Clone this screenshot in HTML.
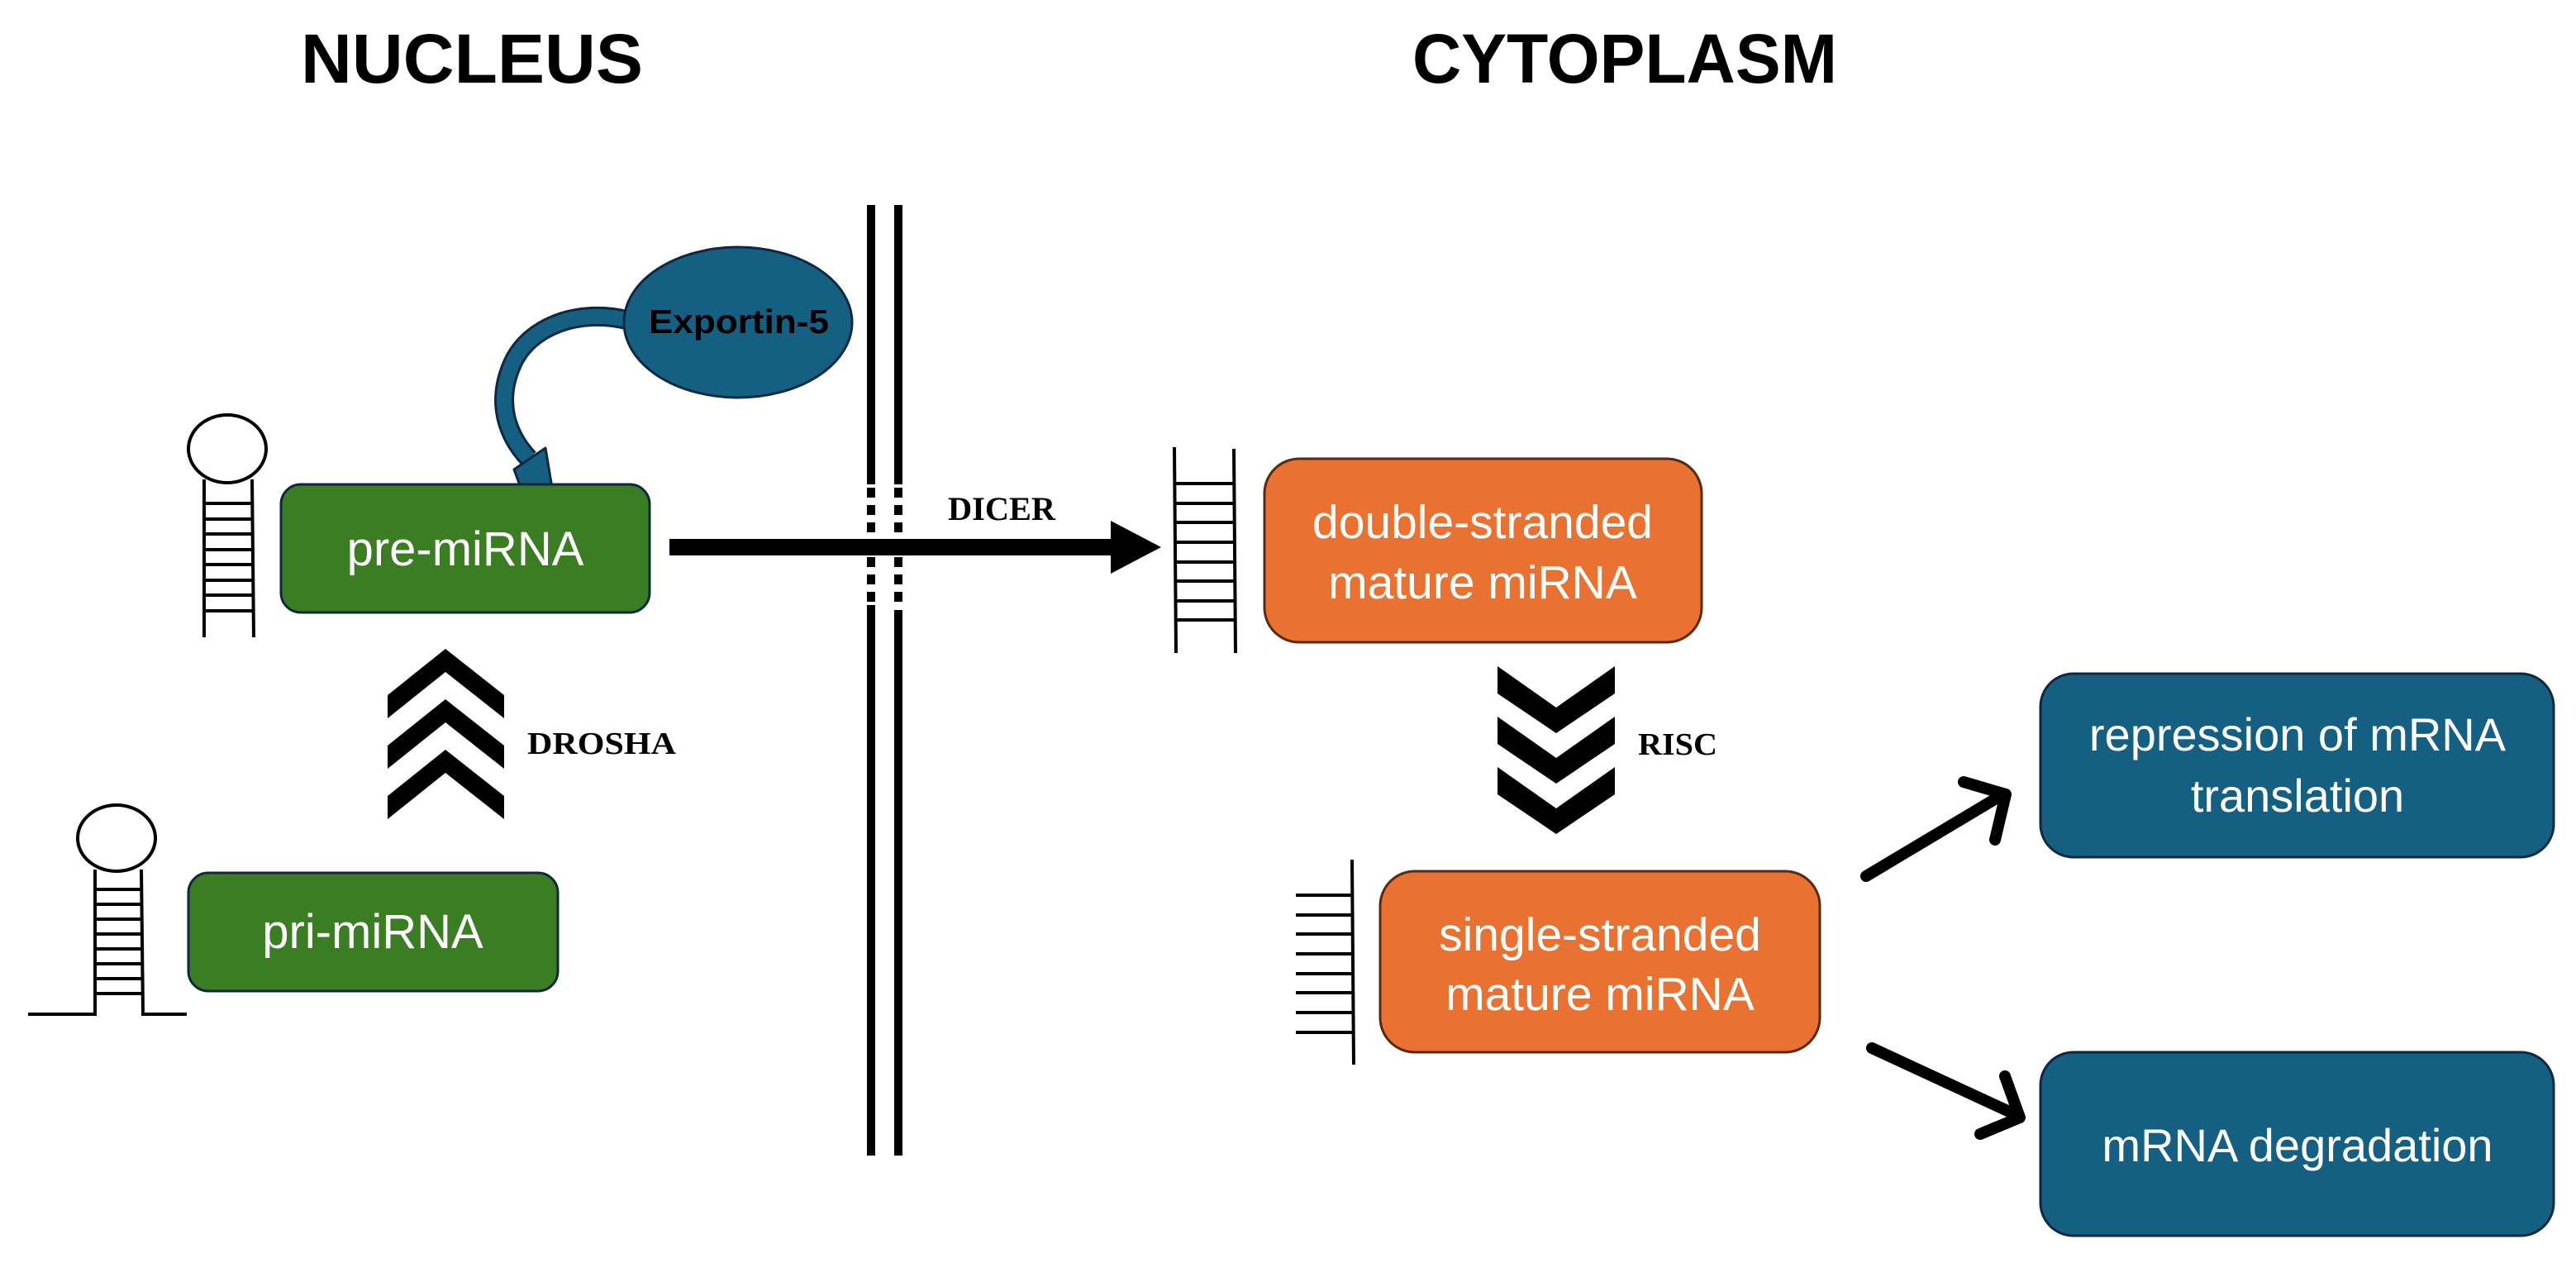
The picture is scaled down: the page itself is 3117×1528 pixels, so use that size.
<!DOCTYPE html>
<html><head><meta charset="utf-8"><style>
html,body{margin:0;padding:0;background:#fff;}
svg{display:block}
</style></head><body>
<svg width="3117" height="1528" viewBox="0 0 3117 1528" xmlns="http://www.w3.org/2000/svg">
<rect width="3117" height="1528" fill="#fff"/>
<!-- titles -->
<text x="571" y="100" font-family="Liberation Sans, sans-serif" font-weight="bold" font-size="84" text-anchor="middle" textLength="414" lengthAdjust="spacingAndGlyphs">NUCLEUS</text>
<text x="1966" y="100" font-family="Liberation Sans, sans-serif" font-weight="bold" font-size="84" text-anchor="middle" textLength="514" lengthAdjust="spacingAndGlyphs">CYTOPLASM</text>

<!-- membrane -->
<g stroke="#000" stroke-width="10">
<line x1="1054" y1="248" x2="1054" y2="586"/>
<line x1="1087" y1="248" x2="1087" y2="586"/>
<line x1="1054" y1="732" x2="1054" y2="1398"/>
<line x1="1087" y1="738" x2="1087" y2="1398"/>
<line x1="1054" y1="590" x2="1054" y2="730" stroke-dasharray="12 9"/>
<line x1="1087" y1="590" x2="1087" y2="736" stroke-dasharray="12 9"/>
</g>

<!-- DICER arrow -->
<rect x="810" y="652" width="540" height="20" fill="#000"/>
<polygon points="1344,630 1405,662 1344,694" fill="#000"/>
<text x="1147" y="629" font-family="Liberation Serif, serif" font-weight="bold" font-size="40" textLength="130" lengthAdjust="spacingAndGlyphs">DICER</text>

<!-- Exportin -->
<path d="M762 388 C700 372 640 395 620 440 C600 485 612 525 640 555" fill="none" stroke="#0E2841" stroke-width="24"/>
<path d="M762 388 C700 372 640 395 620 440 C600 485 612 525 640 555" fill="none" stroke="#156082" stroke-width="18"/>
<polygon points="622,568 660,542 668,590 633,598" fill="#156082" stroke="#0E2841" stroke-width="3" stroke-linejoin="round"/>
<ellipse cx="893" cy="390" rx="138" ry="91" fill="#156082" stroke="#0E2841" stroke-width="3"/>
<text x="894" y="403" font-family="Liberation Sans, sans-serif" font-weight="bold" font-size="41" text-anchor="middle" fill="#000" textLength="218" lengthAdjust="spacingAndGlyphs">Exportin-5</text>

<!-- pre-miRNA -->
<rect x="340" y="586" width="446" height="155" rx="24" fill="#3A7D22" stroke="#0E2841" stroke-width="3"/>
<text x="563" y="684" font-family="Liberation Sans, sans-serif" font-size="58" text-anchor="middle" fill="#fff">pre-miRNA</text>
<!-- pri-miRNA -->
<rect x="228" y="1056" width="447" height="143" rx="24" fill="#3A7D22" stroke="#0E2841" stroke-width="3"/>
<text x="451" y="1147" font-family="Liberation Sans, sans-serif" font-size="58" text-anchor="middle" fill="#fff">pri-miRNA</text>

<!-- stem loop 1 -->
<g stroke="#000" stroke-width="4" fill="none">
<ellipse cx="275" cy="543" rx="47" ry="41" fill="#fff"/>
<line x1="247" y1="580" x2="247" y2="771"/>
<line x1="305" y1="580" x2="307" y2="771"/>
<line x1="247" y1="609" x2="305" y2="609"/><line x1="247" y1="628" x2="305" y2="628"/>
<line x1="247" y1="646" x2="305" y2="646"/><line x1="247" y1="665" x2="305" y2="665"/>
<line x1="247" y1="683" x2="305" y2="683"/><line x1="247" y1="702" x2="305" y2="702"/>
<line x1="247" y1="720" x2="305" y2="720"/><line x1="247" y1="739" x2="305" y2="739"/>
</g>
<!-- stem loop 2 -->
<g stroke="#000" stroke-width="4" fill="none">
<ellipse cx="141" cy="1014" rx="47" ry="40" fill="#fff"/>
<polyline points="34,1227 115,1227 115,1052"/>
<polyline points="226,1227 173,1227 171,1052"/>
<line x1="115" y1="1076" x2="173" y2="1076"/><line x1="115" y1="1094" x2="173" y2="1094"/>
<line x1="115" y1="1112" x2="173" y2="1112"/><line x1="115" y1="1130" x2="173" y2="1130"/>
<line x1="115" y1="1148" x2="173" y2="1148"/><line x1="115" y1="1166" x2="173" y2="1166"/>
<line x1="115" y1="1184" x2="173" y2="1184"/><line x1="115" y1="1202" x2="173" y2="1202"/>
</g>

<!-- up chevrons -->
<g fill="#000">
<polygon points="469,841 539,785 610,841 610,869 539,813 469,869"/>
<polygon points="469,902 539,846 610,902 610,930 539,874 469,930"/>
<polygon points="469,963 539,907 610,963 610,991 539,935 469,991"/>
</g>
<text x="638" y="912" font-family="Liberation Serif, serif" font-weight="bold" font-size="38" textLength="180" lengthAdjust="spacingAndGlyphs">DROSHA</text>

<!-- ds ladder -->
<g stroke="#000" stroke-width="4">
<line x1="1421" y1="541" x2="1423" y2="790"/>
<line x1="1493" y1="543" x2="1495" y2="790"/>
<line x1="1423" y1="585" x2="1493" y2="585"/><line x1="1423" y1="609" x2="1493" y2="609"/>
<line x1="1423" y1="632" x2="1493" y2="632"/><line x1="1423" y1="656" x2="1493" y2="656"/>
<line x1="1423" y1="680" x2="1493" y2="680"/><line x1="1423" y1="703" x2="1493" y2="703"/>
<line x1="1423" y1="727" x2="1493" y2="727"/><line x1="1423" y1="750" x2="1493" y2="750"/>
</g>
<rect x="1530" y="555" width="529" height="222" rx="42" fill="#E97132" stroke="#5A2A10" stroke-width="3"/>
<text x="1794" y="651" font-family="Liberation Sans, sans-serif" font-size="57" text-anchor="middle" fill="#fff">double-stranded</text>
<text x="1794" y="724" font-family="Liberation Sans, sans-serif" font-size="57" text-anchor="middle" fill="#fff">mature miRNA</text>

<!-- down chevrons -->
<g fill="#000">
<polygon points="1812,806 1883,856 1954,806 1954,839 1883,887 1812,839"/>
<polygon points="1812,867 1883,917 1954,867 1954,900 1883,948 1812,900"/>
<polygon points="1812,928 1883,978 1954,928 1954,961 1883,1009 1812,961"/>
</g>
<text x="1982" y="913" font-family="Liberation Serif, serif" font-weight="bold" font-size="38" textLength="96" lengthAdjust="spacingAndGlyphs">RISC</text>

<!-- ss ladder -->
<g stroke="#000" stroke-width="4">
<line x1="1636" y1="1040" x2="1638" y2="1288"/>
<line x1="1568" y1="1083" x2="1636" y2="1083"/><line x1="1568" y1="1107" x2="1636" y2="1107"/>
<line x1="1568" y1="1130" x2="1636" y2="1130"/><line x1="1568" y1="1154" x2="1636" y2="1154"/>
<line x1="1568" y1="1178" x2="1636" y2="1178"/><line x1="1568" y1="1201" x2="1636" y2="1201"/>
<line x1="1568" y1="1225" x2="1636" y2="1225"/><line x1="1568" y1="1249" x2="1636" y2="1249"/>
</g>
<rect x="1670" y="1054" width="532" height="219" rx="42" fill="#E97132" stroke="#5A2A10" stroke-width="3"/>
<text x="1936" y="1150" font-family="Liberation Sans, sans-serif" font-size="57" text-anchor="middle" fill="#fff">single-stranded</text>
<text x="1936" y="1222" font-family="Liberation Sans, sans-serif" font-size="57" text-anchor="middle" fill="#fff">mature miRNA</text>

<!-- output arrows -->
<g stroke="#000" stroke-width="14" stroke-linecap="round" stroke-linejoin="round" fill="none">
<line x1="2258" y1="1060" x2="2422" y2="962"/>
<polyline points="2376,946 2427,961 2414,1016"/>
<line x1="2265" y1="1268" x2="2438" y2="1348"/>
<polyline points="2396,1372 2444,1352 2426,1302"/>
</g>

<!-- blue boxes -->
<rect x="2469" y="815" width="621" height="222" rx="40" fill="#156082" stroke="#0E2841" stroke-width="3"/>
<text x="2780" y="908" font-family="Liberation Sans, sans-serif" font-size="56" text-anchor="middle" fill="#fff">repression of mRNA</text>
<text x="2780" y="982" font-family="Liberation Sans, sans-serif" font-size="56" text-anchor="middle" fill="#fff">translation</text>
<rect x="2469" y="1273" width="621" height="222" rx="40" fill="#156082" stroke="#0E2841" stroke-width="3"/>
<text x="2780" y="1405" font-family="Liberation Sans, sans-serif" font-size="56" text-anchor="middle" fill="#fff">mRNA degradation</text>
</svg>
</body></html>
